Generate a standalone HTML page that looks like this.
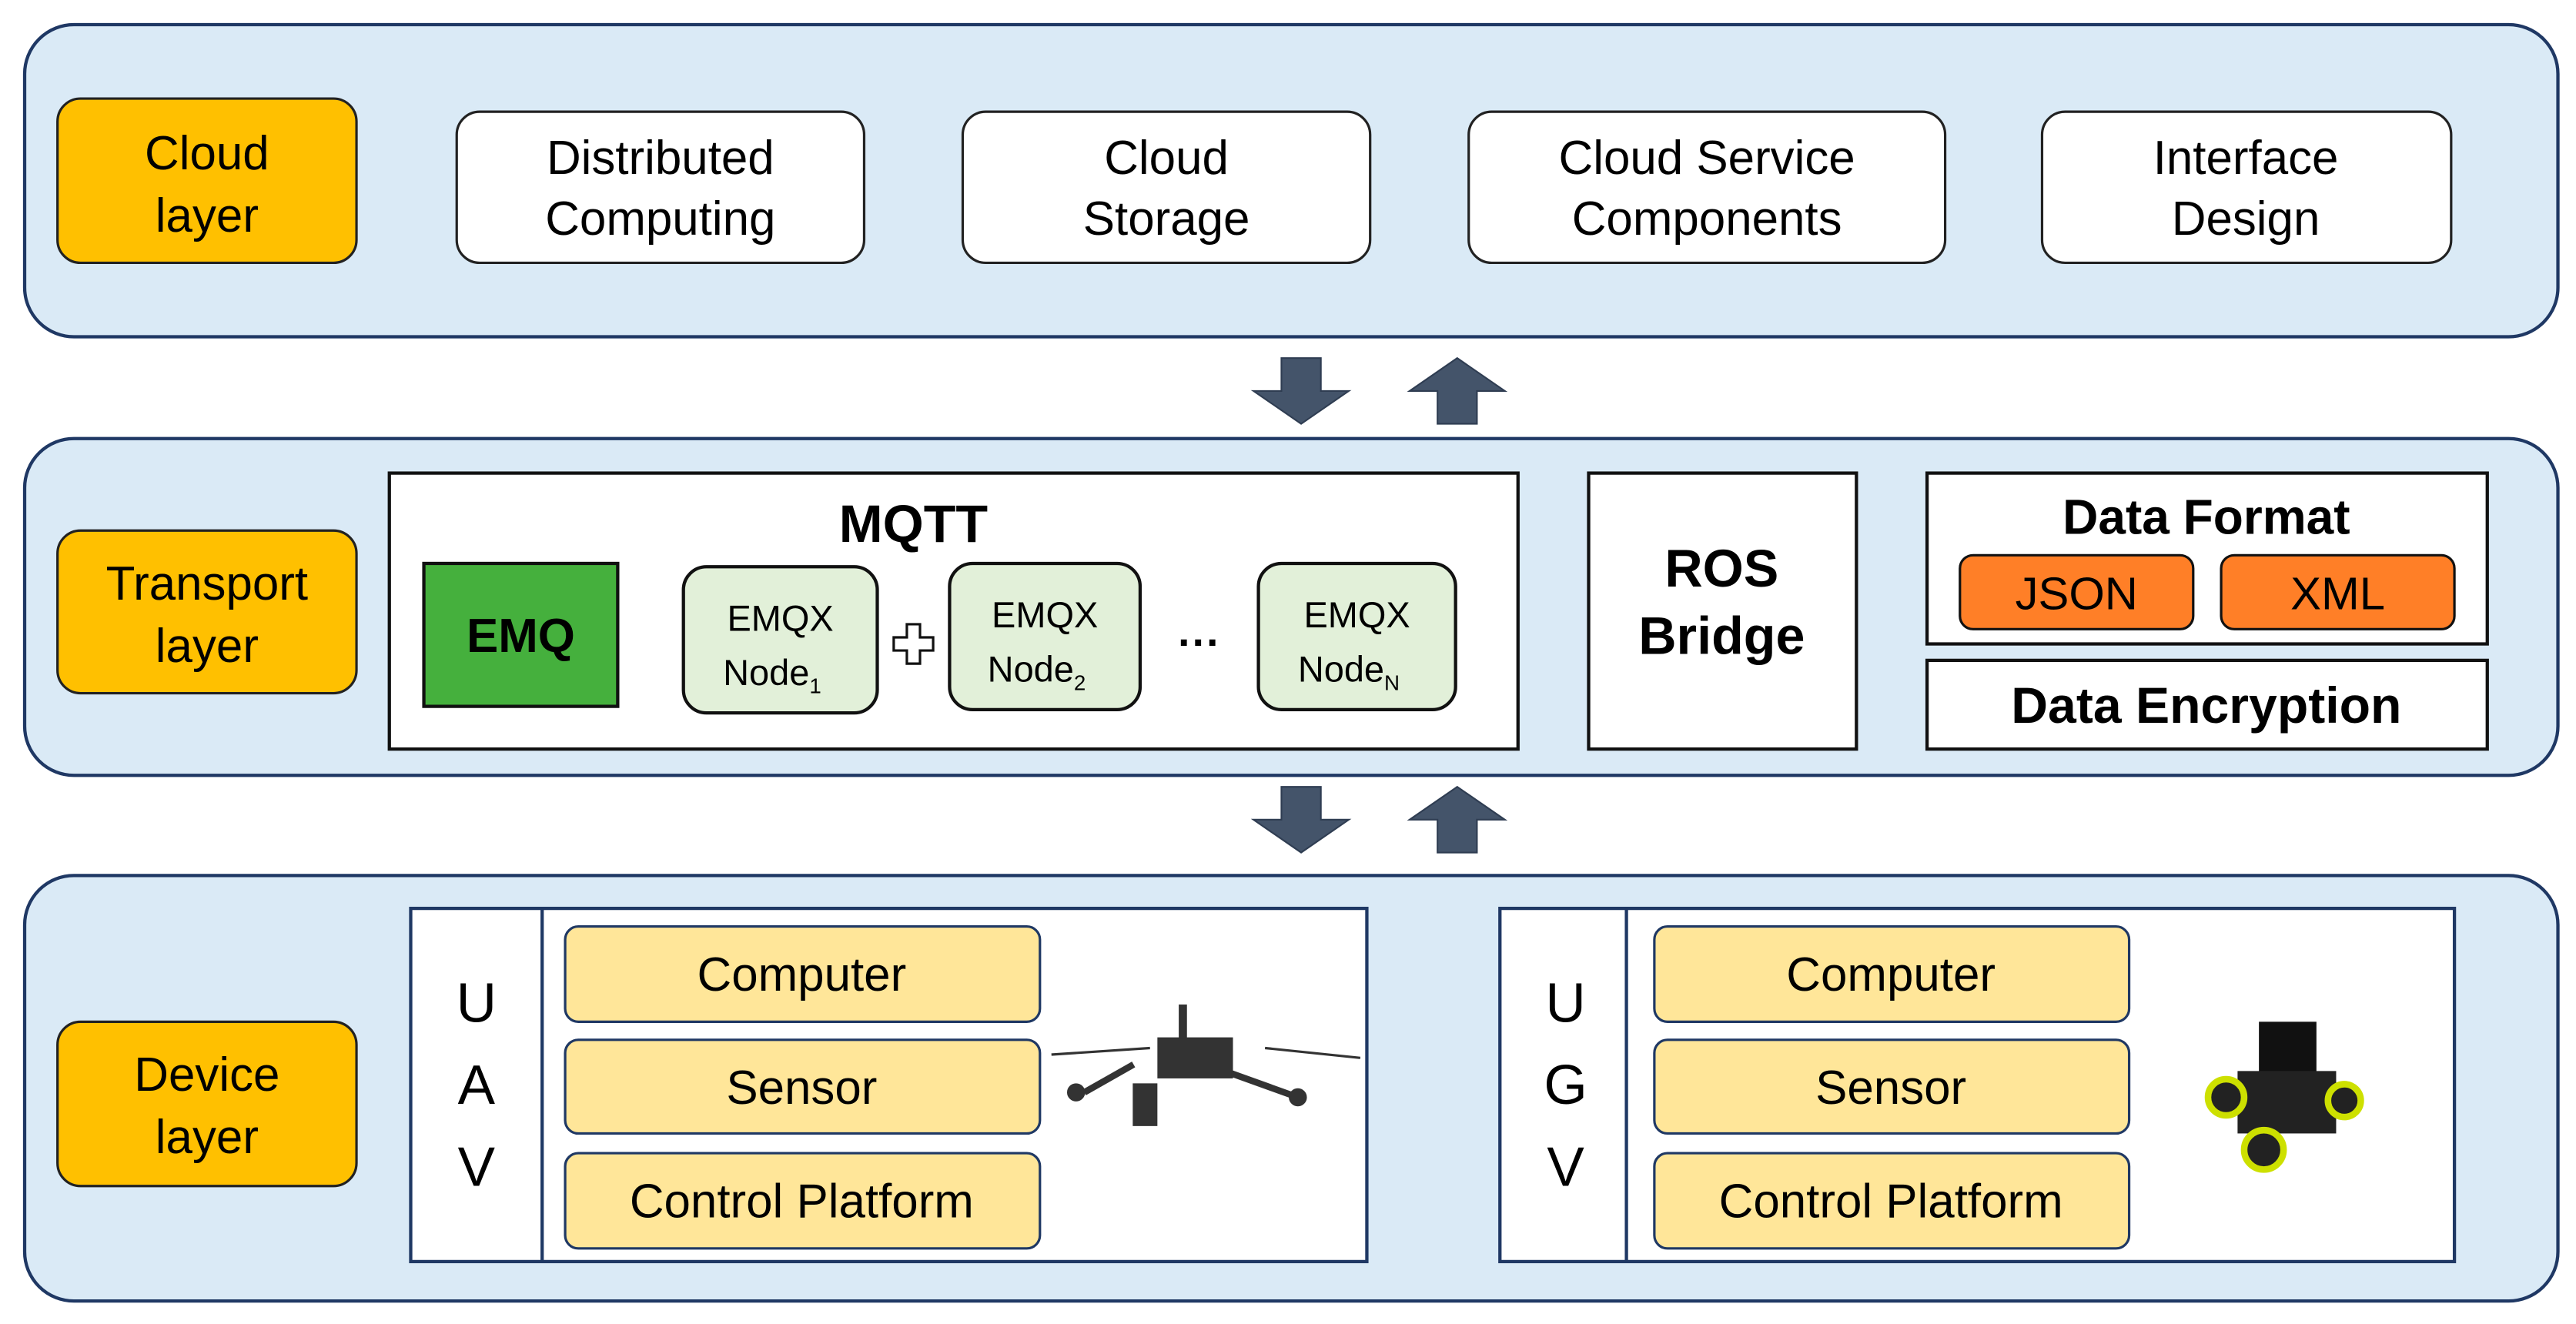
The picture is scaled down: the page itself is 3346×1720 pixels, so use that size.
<!DOCTYPE html>
<html><head><meta charset="utf-8"><style>
html,body{margin:0;padding:0;background:#fff;}
svg{display:block;}
text{font-family:"Liberation Sans",sans-serif;fill:#000;}
</style></head><body>
<svg width="3346" height="1720" viewBox="0 0 1568 806" preserveAspectRatio="none" xmlns="http://www.w3.org/2000/svg">
<defs>
<g id="down"><polygon points="-12,-20 12,-20 12,0 29,0 0,20 -29,0 -12,0" fill="#44546A" stroke="#2F3D52" stroke-width="1"/></g>
<g id="up"><polygon points="-12,20 12,20 12,0 29,0 0,-20 -29,0 -12,0" fill="#44546A" stroke="#2F3D52" stroke-width="1"/></g>
</defs>
<rect x="15" y="15" width="1542" height="190" rx="30" fill="#DAEAF6" stroke="#1F3864" stroke-width="2"/>
<rect x="15" y="267" width="1542" height="205" rx="30" fill="#DAEAF6" stroke="#1F3864" stroke-width="2"/>
<rect x="15" y="533" width="1542" height="259" rx="30" fill="#DAEAF6" stroke="#1F3864" stroke-width="2"/>
<use href="#down" x="792" y="238"/><use href="#up" x="887" y="238"/>
<use href="#down" x="792" y="499"/><use href="#up" x="887" y="499"/>
<g font-size="29" text-anchor="middle">
<rect x="35" y="60" width="182" height="100" rx="14" fill="#FFC000" stroke="#222" stroke-width="1.5"/>
<text x="126" y="103">Cloud</text><text x="126" y="141">layer</text>
<rect x="35" y="323" width="182" height="99" rx="14" fill="#FFC000" stroke="#222" stroke-width="1.5"/>
<text x="126" y="365">Transport</text><text x="126" y="403">layer</text>
<rect x="35" y="622" width="182" height="100" rx="14" fill="#FFC000" stroke="#222" stroke-width="1.5"/>
<text x="126" y="664">Device</text><text x="126" y="702">layer</text>
<rect x="278" y="68" width="248" height="92" rx="14" fill="#fff" stroke="#222" stroke-width="1.5"/>
<text x="402" y="106">Distributed</text><text x="402" y="143">Computing</text>
<rect x="586" y="68" width="248" height="92" rx="14" fill="#fff" stroke="#222" stroke-width="1.5"/>
<text x="710" y="106">Cloud</text><text x="710" y="143">Storage</text>
<rect x="894" y="68" width="290" height="92" rx="14" fill="#fff" stroke="#222" stroke-width="1.5"/>
<text x="1039" y="106">Cloud Service</text><text x="1039" y="143">Components</text>
<rect x="1243" y="68" width="249" height="92" rx="14" fill="#fff" stroke="#222" stroke-width="1.5"/>
<text x="1367" y="106">Interface</text><text x="1367" y="143">Design</text>
</g>
<rect x="237" y="288" width="687" height="168" fill="#fff" stroke="#111" stroke-width="2"/>
<text x="556" y="330" font-size="32" font-weight="bold" text-anchor="middle">MQTT</text>
<rect x="258" y="343" width="118" height="87" fill="#45B03D" stroke="#111" stroke-width="2"/>
<text x="317" y="397" font-size="29" font-weight="bold" text-anchor="middle">EMQ</text>
<g font-size="22" text-anchor="middle">
<rect x="416" y="345" width="118" height="89" rx="14" fill="#E2F0D9" stroke="#111" stroke-width="2"/>
<text x="475" y="384">EMQX</text><text x="470" y="417">Node<tspan font-size="13" dy="5">1</tspan></text>
<rect x="578" y="343" width="116" height="89" rx="14" fill="#E2F0D9" stroke="#111" stroke-width="2"/>
<text x="636" y="382">EMQX</text><text x="631" y="415">Node<tspan font-size="13" dy="5">2</tspan></text>
<rect x="766" y="343" width="120" height="89" rx="14" fill="#E2F0D9" stroke="#111" stroke-width="2"/>
<text x="826" y="382">EMQX</text><text x="821" y="415">Node<tspan font-size="13" dy="5">N</tspan></text>
</g>
<path d="M552,380 h8 v8 h8 v8 h-8 v8 h-8 v-8 h-8 v-8 h8 z" fill="#fff" stroke="#111" stroke-width="1.5"/>
<text x="730" y="400" font-size="26" font-weight="bold" text-anchor="middle">···</text>
<rect x="967" y="288" width="163" height="168" fill="#fff" stroke="#111" stroke-width="2"/>
<text x="1048" y="357" font-size="32" font-weight="bold" text-anchor="middle">ROS</text>
<text x="1048" y="398" font-size="32" font-weight="bold" text-anchor="middle">Bridge</text>
<rect x="1173" y="288" width="341" height="104" fill="#fff" stroke="#111" stroke-width="2"/>
<text x="1343" y="325" font-size="30" font-weight="bold" text-anchor="middle">Data Format</text>
<rect x="1193" y="338" width="142" height="45" rx="8" fill="#FF7F27" stroke="#111" stroke-width="1.5"/>
<text x="1264" y="371" font-size="28" text-anchor="middle">JSON</text>
<rect x="1352" y="338" width="142" height="45" rx="8" fill="#FF7F27" stroke="#111" stroke-width="1.5"/>
<text x="1423" y="371" font-size="28" text-anchor="middle">XML</text>
<rect x="1173" y="402" width="341" height="54" fill="#fff" stroke="#111" stroke-width="2"/>
<text x="1343" y="440" font-size="31" font-weight="bold" text-anchor="middle">Data Encryption</text>
<rect x="250" y="553" width="582" height="215" fill="#fff" stroke="#1F3864" stroke-width="2"/>
<line x1="330" y1="553" x2="330" y2="768" stroke="#1F3864" stroke-width="2"/>
<g font-size="34" text-anchor="middle"><text x="290" y="622">U</text><text x="290" y="672">A</text><text x="290" y="722">V</text></g>
<g font-size="29" text-anchor="middle">
<rect x="344" y="564" width="289" height="58" rx="8" fill="#FFE699" stroke="#1F3864" stroke-width="1.5"/><text x="488" y="603">Computer</text>
<rect x="344" y="633" width="289" height="57" rx="8" fill="#FFE699" stroke="#1F3864" stroke-width="1.5"/><text x="488" y="672">Sensor</text>
<rect x="344" y="702" width="289" height="58" rx="8" fill="#FFE699" stroke="#1F3864" stroke-width="1.5"/><text x="488" y="741">Control Platform</text>
</g>
<g stroke="#333" fill="#333">
<line x1="640" y1="642" x2="700" y2="638" stroke-width="1.5"/>
<line x1="770" y1="638" x2="828" y2="644" stroke-width="1.5"/>
<line x1="690" y1="648" x2="660" y2="665" stroke-width="4"/>
<line x1="740" y1="650" x2="790" y2="668" stroke-width="4"/>
<rect x="705" y="632" width="45" height="24"/>
<rect x="690" y="660" width="14" height="25"/>
<rect x="718" y="612" width="4" height="20"/>
<circle cx="655" cy="665" r="5"/>
<circle cx="790" cy="668" r="5"/>
</g>
<rect x="913" y="553" width="581" height="215" fill="#fff" stroke="#1F3864" stroke-width="2"/>
<line x1="990" y1="553" x2="990" y2="768" stroke="#1F3864" stroke-width="2"/>
<g font-size="34" text-anchor="middle"><text x="953" y="622">U</text><text x="953" y="672">G</text><text x="953" y="722">V</text></g>
<g font-size="29" text-anchor="middle">
<rect x="1007" y="564" width="289" height="58" rx="8" fill="#FFE699" stroke="#1F3864" stroke-width="1.5"/><text x="1151" y="603">Computer</text>
<rect x="1007" y="633" width="289" height="57" rx="8" fill="#FFE699" stroke="#1F3864" stroke-width="1.5"/><text x="1151" y="672">Sensor</text>
<rect x="1007" y="702" width="289" height="58" rx="8" fill="#FFE699" stroke="#1F3864" stroke-width="1.5"/><text x="1151" y="741">Control Platform</text>
</g>
<g>
<rect x="1375" y="622" width="35" height="32" fill="#111"/>
<rect x="1362" y="652" width="60" height="38" fill="#222"/>
<circle cx="1355" cy="668" r="11" fill="#222" stroke="#cde000" stroke-width="4"/>
<circle cx="1427" cy="670" r="10" fill="#222" stroke="#cde000" stroke-width="4"/>
<circle cx="1378" cy="700" r="12" fill="#222" stroke="#cde000" stroke-width="4"/>
</g>
</svg>
</body></html>
